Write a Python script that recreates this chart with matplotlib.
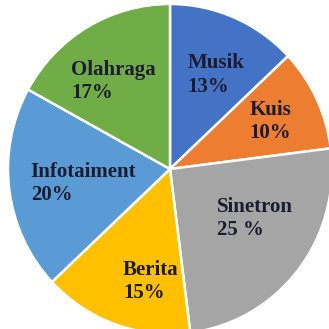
import matplotlib.pyplot as plt
import numpy as np

# TV programme preference shares
categories = ['Musik', 'Kuis', 'Sinetron', 'Berita', 'Infotaiment', 'Olahraga']
values = [13, 10, 25, 15, 20, 17]
pct_text = ['13%', '10%', '25 %', '15%', '20%', '17%']
colors = ['#4472C4', '#ED7D31', '#A5A5A5', '#FFC000', '#5B9BD5', '#70AD47']

# top-left corner of each label block (data units, pie radius = 1)
label_pos = [(0.11, 0.70), (0.49, 0.42), (0.29, -0.17),
             (-0.29, -0.55), (-0.86, 0.04), (-0.61, 0.66)]

fig = plt.figure(figsize=(3.29, 3.29), dpi=100)
ax = fig.add_axes([0, 0, 1, 1])

ax.pie(values, colors=colors, startangle=90, counterclock=False,
       radius=1.0, wedgeprops=dict(edgecolor='white', linewidth=1.8))

for name, pct, (x, y) in zip(categories, pct_text, label_pos):
    ax.text(x, y, name + '\n' + pct, ha='left', va='top',
            fontsize=15, fontweight='bold', family='Liberation Serif',
            color='#1c1c30', linespacing=1.2)

# pie is slightly taller than wide and runs off the right/bottom edges
cx, cy, rx, ry = 170, 169, 162, 165
ax.set_xlim(-cx / rx, (329 - cx) / rx)
ax.set_ylim(-(329 - cy) / ry, cy / ry)
ax.set_aspect('auto')
ax.axis('off')

fig.savefig('out.png', dpi=100, facecolor='white')
